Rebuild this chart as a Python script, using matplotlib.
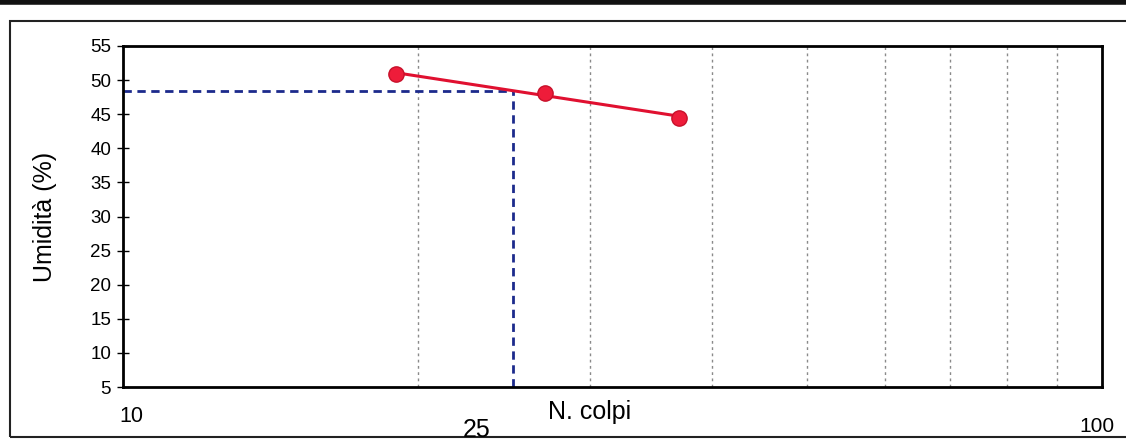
import numpy as np
import matplotlib.pyplot as plt
from matplotlib.patches import Rectangle
from matplotlib.lines import Line2D
from matplotlib.ticker import NullFormatter, FixedLocator

plt.rcParams['font.family'] = ['Liberation Sans', 'DejaVu Sans']

# Casagrande test readings
n_colpi = [19, 27, 37]
umidita = [50.9, 48.1, 44.5]
grid_colpi = [20, 30, 40, 50, 60, 70, 80, 90]
y_ticks = [5, 10, 15, 20, 25, 30, 35, 40, 45, 50, 55]
n_ref = 25

# log-linear fit of moisture vs blows
coef = np.polyfit(np.log10(n_colpi), umidita, 1)
fit_x = np.array([min(n_colpi), max(n_colpi)])
fit_y = np.polyval(coef, np.log10(fit_x))
limite = np.polyval(coef, np.log10(n_ref))

fig = plt.figure(figsize=(11.26, 4.41), dpi=100)
ax = fig.add_axes([0.1092, 0.1224, 0.8695, 0.7733])

ax.set_xscale('log')
ax.set_xlim(10, 100)
ax.set_ylim(5, 55)

for g in grid_colpi:
    ax.axvline(g, color='#8a8a8a', lw=1.0, ls=(0, (2, 2.5)), zorder=1)

# liquid limit construction at 25 blows
ax.plot([10, n_ref], [limite, limite], color='#1c2a8c', lw=2, ls=(0, (3, 2)), zorder=2)
ax.plot([n_ref, n_ref], [5, limite], color='#1c2a8c', lw=2, ls=(0, (3, 2)), zorder=2)

ax.plot(fit_x, fit_y, color='#e01030', lw=2.2, zorder=3)
ax.plot(n_colpi, umidita, 'o', color='#ee1c3a', markeredgecolor='#c8102a',
        markersize=11, zorder=4)

ax.set_yticks(y_ticks)
ax.tick_params(axis='y', direction='inout', length=9, width=1, labelsize=13.5, pad=4)
ax.xaxis.set_major_locator(FixedLocator([]))
ax.xaxis.set_minor_locator(FixedLocator([]))
ax.xaxis.set_minor_formatter(NullFormatter())
ax.tick_params(axis='x', length=0)
for s in ax.spines.values():
    s.set_linewidth(2)

ax.set_ylabel('Umidità (%)', fontsize=18, labelpad=24)
fig.text(131 / 1126, 1 - 416 / 441, '10', fontsize=15.5, ha='center', va='center')
fig.text(477 / 1126, 1 - 430 / 441, '25', fontsize=18, ha='center', va='center')
fig.text(590 / 1126, 1 - 412 / 441, 'N. colpi', fontsize=18, ha='center', va='center')
fig.text(1097 / 1126, 1 - 427 / 441, '100', fontsize=15, ha='center', va='center')

# page frame around the chart
fig.patches.append(Rectangle((10 / 1126, 1 - 437 / 441), 1.2, 416 / 441,
                             transform=fig.transFigure, fill=False,
                             ec='#222222', lw=1.5))
fig.lines.append(Line2D([0, 1], [1 - 2 / 441, 1 - 2 / 441],
                        transform=fig.transFigure, color='#111111', lw=4))

fig.savefig('out.png', dpi=100)
